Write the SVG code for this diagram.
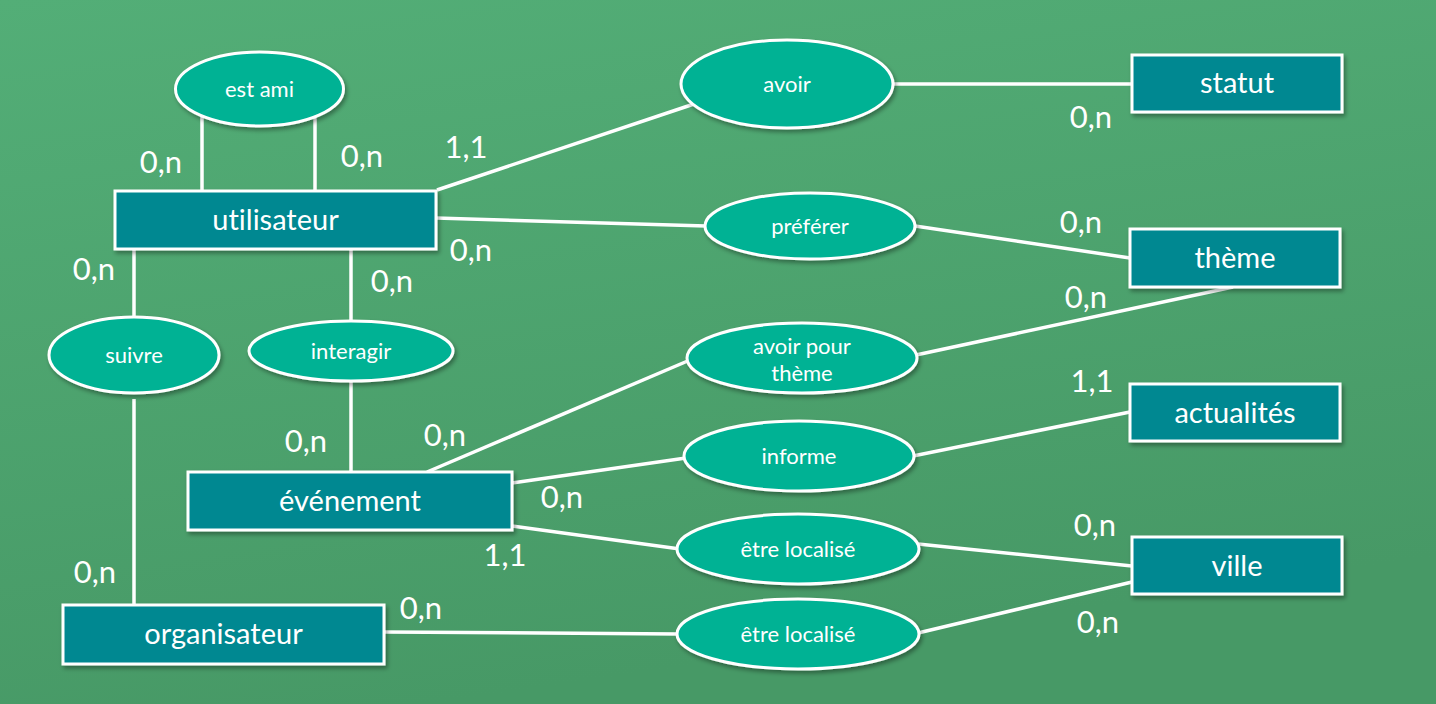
<svg xmlns="http://www.w3.org/2000/svg" width="1436" height="704" viewBox="0 0 1436 704">
<defs>
<linearGradient id="bg" x1="0" y1="0" x2="0.3" y2="1">
<stop offset="0" stop-color="#53ae77"/>
<stop offset="1" stop-color="#479966"/>
</linearGradient>
<filter id="sh" x="-10%" y="-20%" width="130%" height="150%">
<feDropShadow dx="2" dy="3" stdDeviation="2" flood-color="#000" flood-opacity="0.35"/>
</filter>
</defs>
<style>
.ent{fill:#008891;stroke:#fff;stroke-width:3;filter:url(#sh)}
.rel{fill:#00b294;stroke:#fff;stroke-width:3;filter:url(#sh)}
text{font-variant-ligatures:none;font-feature-settings:"liga" 0,"clig" 0,"dlig" 0}
.et{font-family:Lato,"Liberation Sans",sans-serif;font-size:29px;fill:#fff;text-anchor:middle}
.rt{font-family:Lato,"Liberation Sans",sans-serif;font-size:22px;fill:#fff;text-anchor:middle}
.card{font-family:Lato,"Liberation Sans",sans-serif;font-size:31px;fill:#fff;text-anchor:middle}
.ln{stroke:#fff;stroke-width:3.5;fill:none}
</style>
<rect x="0" y="0" width="1436" height="704" fill="url(#bg)"/>
<g id="connectors">
<line class="ln" x1="202" y1="116" x2="202" y2="191"/>
<line class="ln" x1="315" y1="116" x2="315" y2="191"/>
<line class="ln" x1="437" y1="190" x2="697" y2="103"/>
<line class="ln" x1="893" y1="84" x2="1132" y2="84"/>
<line class="ln" x1="436" y1="218" x2="706" y2="226"/>
<line class="ln" x1="915" y1="226" x2="1130" y2="258"/>
<line class="ln" x1="134" y1="249" x2="134" y2="318"/>
<line class="ln" x1="134" y1="399" x2="134" y2="605"/>
<line class="ln" x1="351" y1="249" x2="351" y2="322"/>
<line class="ln" x1="351" y1="380" x2="351" y2="472"/>
<line class="ln" x1="427" y1="472" x2="690" y2="360"/>
<line class="ln" x1="916" y1="355" x2="1233" y2="287"/>
<line class="ln" x1="512" y1="483" x2="686" y2="458"/>
<line class="ln" x1="913" y1="456" x2="1130" y2="412"/>
<line class="ln" x1="512" y1="526" x2="680" y2="549"/>
<line class="ln" x1="918" y1="544" x2="1132" y2="566"/>
<line class="ln" x1="384" y1="632" x2="678" y2="634"/>
<line class="ln" x1="918" y1="633" x2="1132" y2="582"/>
</g>
<g id="utilisateur"><rect class="ent" x="115" y="191" width="321" height="58"/><text class="et" x="275.5" y="230">utilisateur</text></g>
<g id="statut"><rect class="ent" x="1132" y="55" width="210" height="57"/><text class="et" x="1237" y="93">statut</text></g>
<g id="theme"><rect class="ent" x="1130" y="229" width="210" height="58"/><text class="et" x="1235" y="268">thème</text></g>
<g id="actualites"><rect class="ent" x="1130" y="384" width="210" height="57"/><text class="et" x="1235" y="423">actualités</text></g>
<g id="ville"><rect class="ent" x="1132" y="537" width="210" height="57"/><text class="et" x="1237" y="576">ville</text></g>
<g id="evenement"><rect class="ent" x="188" y="472" width="324" height="58"/><text class="et" x="350" y="511">événement</text></g>
<g id="organisateur"><rect class="ent" x="63" y="605" width="321" height="59"/><text class="et" x="223.5" y="644">organisateur</text></g>
<g id="est_ami"><ellipse class="rel" cx="259.5" cy="89" rx="84" ry="37"/><text class="rt" x="259.5" y="97">est ami</text></g>
<g id="avoir"><ellipse class="rel" cx="787" cy="84" rx="106" ry="44"/><text class="rt" x="787" y="92">avoir</text></g>
<g id="preferer"><ellipse class="rel" cx="810" cy="226" rx="105" ry="33"/><text class="rt" x="810" y="234">préférer</text></g>
<g id="suivre"><ellipse class="rel" cx="134" cy="355" rx="85" ry="38"/><text class="rt" x="134" y="363">suivre</text></g>
<g id="interagir"><ellipse class="rel" cx="351" cy="351" rx="102" ry="30"/><text class="rt" x="351" y="359">interagir</text></g>
<g id="avoir_pour_theme"><ellipse class="rel" cx="802" cy="358" rx="115" ry="35"/><text class="rt" x="802" y="354">avoir pour</text><text class="rt" x="802" y="381">thème</text></g>
<g id="informe"><ellipse class="rel" cx="799" cy="456" rx="115" ry="35"/><text class="rt" x="799" y="464">informe</text></g>
<g id="etre_localise_1"><ellipse class="rel" cx="798" cy="549" rx="121" ry="35"/><text class="rt" x="798" y="557">être localisé</text></g>
<g id="etre_localise_2"><ellipse class="rel" cx="798" cy="634" rx="121" ry="35"/><text class="rt" x="798" y="642">être localisé</text></g>
<g id="cardinalities">
<text class="card" x="161" y="173">0,n</text>
<text class="card" x="362" y="167">0,n</text>
<text class="card" x="466" y="158">1,1</text>
<text class="card" x="1091" y="128">0,n</text>
<text class="card" x="471" y="261">0,n</text>
<text class="card" x="1081" y="233">0,n</text>
<text class="card" x="94" y="280">0,n</text>
<text class="card" x="392" y="292">0,n</text>
<text class="card" x="1086" y="308">0,n</text>
<text class="card" x="1092" y="392">1,1</text>
<text class="card" x="306" y="452">0,n</text>
<text class="card" x="445" y="446">0,n</text>
<text class="card" x="562" y="508">0,n</text>
<text class="card" x="505" y="566">1,1</text>
<text class="card" x="1095" y="536">0,n</text>
<text class="card" x="95" y="583">0,n</text>
<text class="card" x="421" y="619">0,n</text>
<text class="card" x="1098" y="633">0,n</text>
</g>
</svg>
